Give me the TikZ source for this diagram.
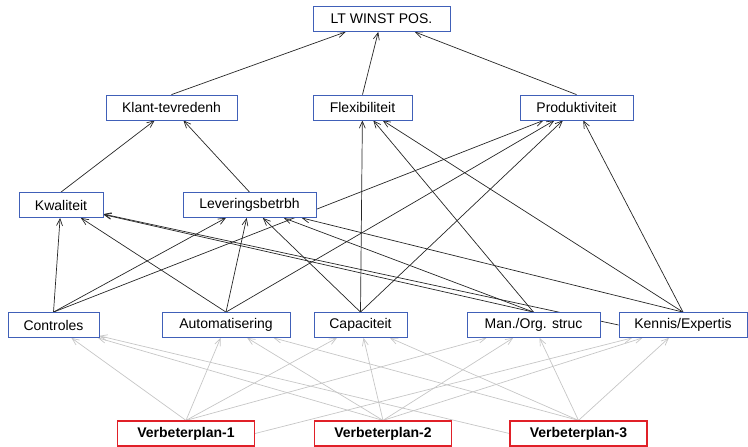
\documentclass[tikz,border=0pt]{standalone}
\usepackage{fontspec}
\setmainfont{Liberation Sans}
\usetikzlibrary{arrows.meta,backgrounds}
\definecolor{boxblue}{RGB}{64,96,184}
\definecolor{boxred}{RGB}{224,32,40}
\definecolor{edgegray}{RGB}{198,198,198}
\begin{document}
\begin{tikzpicture}[x=1pt,y=-1pt,
  box/.style={draw=boxblue, line width=0.8pt, fill=white, minimum height=25pt, inner sep=0pt, font=\fontsize{14}{16}\selectfont},
  plan/.style={draw=boxred, line width=1.2pt, fill=white, minimum height=25pt, inner sep=0pt, font=\fontsize{14}{16}\selectfont\bfseries},
  dep/.style={-{Straight Barb[length=7pt,width=6pt]}, line width=0.7pt, black!85},
  infl/.style={-{Straight Barb[length=7pt,width=6pt]}, line width=0.7pt, edgegray}]
\useasboundingbox (0,0) rectangle (748,447);
\node[box, minimum width=137pt] (lt) at (381.5,19) {LT WINST POS.};
\node[box, minimum width=131pt] (kt) at (171.5,107.5) {Klant-tevredenh};
\node[box, minimum width=99pt] (fl) at (362.5,107.5) {Flexibiliteit};
\node[box, minimum width=113pt] (pr) at (576.5,107.5) {Produktiviteit};
\node[box, minimum width=84pt] (kw) at (61,205) {Kwaliteit};
\node[box, minimum width=133pt] (lv) at (249.5,205) {Leveringsbetrbh};
\node[box, minimum width=91pt] (co) at (53.5,325) {Controles};
\node[box, minimum width=128pt] (au) at (226,325) {Automatisering};
\node[box, minimum width=93pt] (ca) at (360.5,325) {Capaciteit};
\node[box, minimum width=133pt] (mo) at (533.5,325) {Man./Org. struc};
\node[box, minimum width=128pt] (ke) at (683,325) {Kennis/Expertis};
\node[plan, minimum width=137pt] (v1) at (186,433.5) {Verbeterplan-1};
\node[plan, minimum width=137pt] (v2) at (383,433.5) {Verbeterplan-2};
\node[plan, minimum width=137pt] (v3) at (578.5,433.5) {Verbeterplan-3};
\begin{pgfonlayer}{background}
\draw[dep] (kt.north) -- (lt);
\draw[dep] (fl.north) -- (lt);
\draw[dep] (pr.north) -- (lt);
\draw[dep] (kw.north) -- (kt);
\draw[dep] (lv.north) -- (kt);
\draw[dep] (co.north) -- (kw);
\draw[dep] (co.north) -- (lv);
\draw[dep] (co.north) -- (pr);
\draw[dep] (au.north) -- (kw);
\draw[dep] (au.north) -- (lv);
\draw[dep] (au.north) -- (pr);
\draw[dep] (ca.north) -- (fl);
\draw[dep] (ca.north) -- (lv);
\draw[dep] (ca.north) -- (pr);
\draw[dep] (mo.north) -- (kw);
\draw[dep] (mo.north) -- (lv);
\draw[dep] (mo.north) -- (fl);
\draw[dep] (ke.west) -- (kw);
\draw[dep] (ke.north) -- (lv);
\draw[dep] (ke.north) -- (fl);
\draw[dep] (ke.north) -- (pr);
\draw[infl] (v1.north) -- (co);
\draw[infl] (v1.north) -- (au);
\draw[infl] (v1.north) -- (ca);
\draw[infl] (v1.north) -- (mo);
\draw[infl] (v1.east) -- (ke);
\draw[infl] (v2.north) -- (co);
\draw[infl] (v2.north) -- (au);
\draw[infl] (v2.north) -- (ca);
\draw[infl] (v2.north) -- (mo);
\draw[infl] (v2.north) -- (ke);
\draw[infl] (v3.west) -- (co);
\draw[infl] (v3.north) -- (au);
\draw[infl] (v3.north) -- (ca);
\draw[infl] (v3.north) -- (mo);
\draw[infl] (v3.north) -- (ke);
\end{pgfonlayer}
\end{tikzpicture}
\end{document}
